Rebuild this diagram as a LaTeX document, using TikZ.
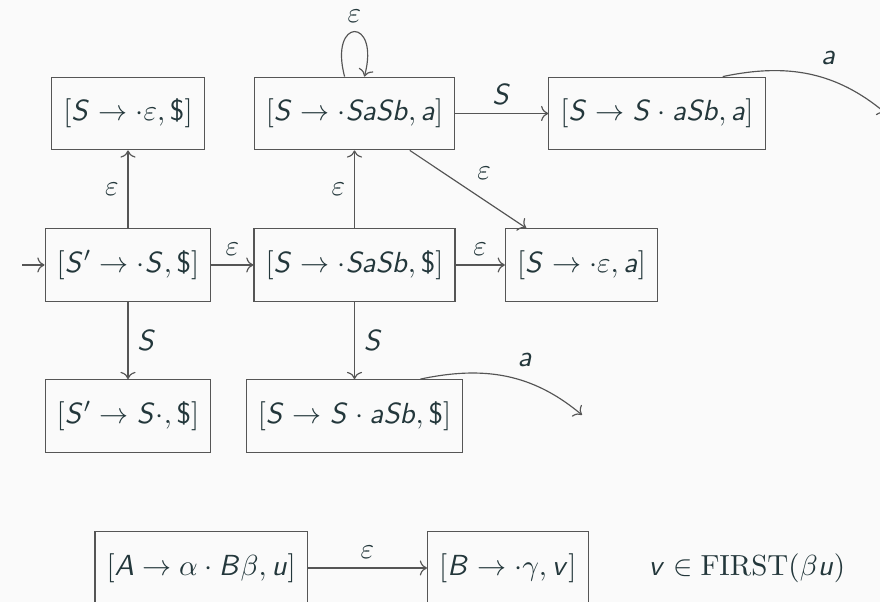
\documentclass[tikz,border=0pt]{standalone}
\usepackage{amsmath,amssymb}
\usepackage{xcolor}
\usepackage{tikz}
\usetikzlibrary{positioning,arrows.meta,calc}
\DeclareMathAlphabet{\mathsfit}{OT1}{cmss}{m}{sl}
\newcommand{\sv}[1]{\mathsfit{#1}}
\newcommand{\dol}{\text{\sffamily\$}}
\definecolor{LRbg}{HTML}{FAFAFA}
\definecolor{LRtext}{HTML}{23373B}
\definecolor{LRline}{HTML}{555555}
\tikzset{
  itembox/.style={draw=LRline, fill=LRbg, minimum height=25pt, inner xsep=4pt, text=LRtext},
  trans/.style={->, draw=LRline},
  lab/.style={text=LRtext, inner sep=3pt}
}

\begin{document}
\begin{tikzpicture}[x=0.0121cm, y=-0.0121cm, text=LRtext]
      \fill[LRbg] (0,0) rectangle (880,602);
      \useasboundingbox (0,0) rectangle (880,602);
      % LR(1) items
      \node[itembox] (init) at (128,265) {$[\sv{S}'\to\cdot\sv{S},\dol]$};
      \node[itembox] (epsS) at (128,113.5) {$[\sv{S}\to\cdot\varepsilon,\dol]$};
      \node[itembox] (acc) at (128,416) {$[\sv{S}'\to\sv{S}\cdot,\dol]$};
      \node[itembox] (sasS) at (354.5,265) {$[\sv{S}\to\cdot\sv{SaSb},\dol]$};
      \node[itembox] (sasA) at (354.5,113.5) {$[\sv{S}\to\cdot\sv{SaSb},\sv{a}]$};
      \node[itembox] (shS) at (354.5,416) {$[\sv{S}\to\sv{S}\cdot\sv{aSb},\dol]$};
      \node[itembox] (epsA) at (581.5,265) {$[\sv{S}\to\cdot\varepsilon,\sv{a}]$};
      \node[itembox] (shA) at (657,113.5) {$[\sv{S}\to\sv{S}\cdot\sv{aSb},\sv{a}]$};
      \coordinate (start) at (22,265);
      \coordinate (outS) at (582,415);
      \coordinate (outA) at (886,113.5);
      % transitions
      \draw[trans] (start) -- (init);
      \draw[trans] (init) -- node[lab, left] {$\varepsilon$} (epsS);
      \draw[trans] (init) -- node[lab, right] {$\sv{S}$} (acc);
      \draw[trans] (init) -- node[lab, above] {$\varepsilon$} (sasS);
      \draw[trans] (sasS) -- node[lab, left] {$\varepsilon$} (sasA);
      \draw[trans] (sasS) -- node[lab, right] {$\sv{S}$} (shS);
      \draw[trans] (sasS) -- node[lab, above] {$\varepsilon$} (epsA);
      \draw[trans] (sasA) -- node[lab, above] {$\sv{S}$} (shA);
      \draw[trans] (sasA) -- node[lab, above right] {$\varepsilon$} (epsA);
      \draw[trans] (sasA) to[out=105, in=75, min distance=7.5mm] node[lab, above] {$\varepsilon$} (sasA);
      \draw[trans] ($(shS.north east)+(-43,0)$) to[out=12, in=140] node[lab, pos=0.62, above=2pt] {$\sv{a}$} (outS);
      \draw[trans] ($(shA.north east)+(-43,0)$) to[out=12, in=140] node[lab, pos=0.62, above=2pt] {$\sv{a}$} (outA);
      % general rule
      \node[itembox, anchor=east] (gen) at (308,568) {$[\sv{A}\to\alpha\cdot\sv{B}\beta,\sv{u}]$};
      \node[itembox, anchor=west] (clos) at (427,568) {$[\sv{B}\to\cdot\gamma,\sv{v}]$};
      \node[right=0.6cm of clos] (cond) {$\sv{v}\in\mathrm{FIRST}(\beta\sv{u})$};
      \draw[trans] (gen) -- node[lab, above] {$\varepsilon$} (clos);
    \end{tikzpicture}
\end{document}
